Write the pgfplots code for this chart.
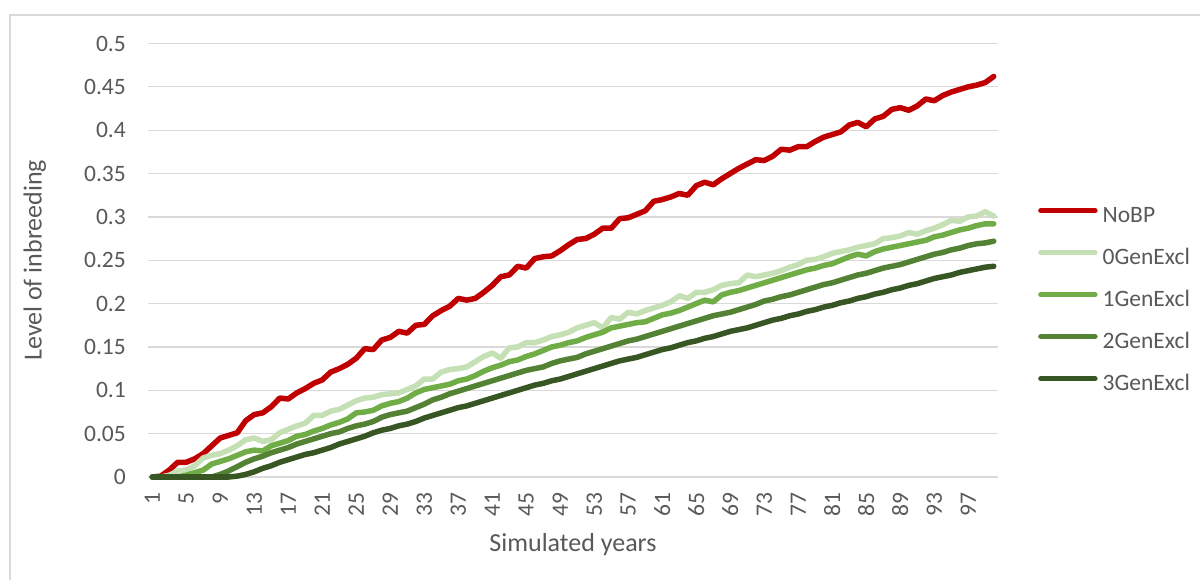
\documentclass[border=0pt]{standalone}
\usepackage{pgfplots}
\usepackage{pgfplotstable}
\pgfplotsset{compat=1.18}
\usepackage{fontspec}
\setmainfont{Carlito}
\definecolor{txt}{HTML}{595959}
\definecolor{grd}{HTML}{D9D9D9}
\definecolor{cNo}{HTML}{C00000}
\definecolor{cG0}{HTML}{C5E0B4}
\definecolor{cG1}{HTML}{70AD47}
\definecolor{cG2}{HTML}{548235}
\definecolor{cG3}{HTML}{375623}
\pgfplotstableread{
x nobp g0 g1 g2 g3
1 0 0 0 0 0
2 0.001 0 0 0 0
3 0.008 0.002 0 0 0
4 0.017 0.007 0 0 0
5 0.017 0.008 0.002 0 0
6 0.021 0.013 0.005 0 0
7 0.027 0.022 0.008 0 0
8 0.036 0.025 0.015 0 0
9 0.045 0.027 0.018 0.003 0
10 0.048 0.031 0.021 0.007 0
11 0.051 0.036 0.025 0.012 0.001
12 0.065 0.043 0.029 0.017 0.003
13 0.072 0.045 0.031 0.021 0.006
14 0.074 0.041 0.030 0.024 0.010
15 0.081 0.043 0.036 0.028 0.013
16 0.091 0.051 0.039 0.031 0.017
17 0.090 0.055 0.042 0.034 0.020
18 0.097 0.059 0.047 0.038 0.023
19 0.102 0.062 0.049 0.041 0.026
20 0.108 0.071 0.053 0.044 0.028
21 0.112 0.071 0.056 0.047 0.031
22 0.121 0.076 0.060 0.050 0.034
23 0.125 0.078 0.063 0.052 0.038
24 0.130 0.083 0.067 0.056 0.041
25 0.137 0.088 0.074 0.059 0.044
26 0.148 0.091 0.075 0.061 0.047
27 0.147 0.092 0.077 0.064 0.051
28 0.158 0.095 0.082 0.069 0.054
29 0.161 0.096 0.085 0.072 0.056
30 0.168 0.097 0.087 0.074 0.059
31 0.166 0.101 0.091 0.076 0.061
32 0.175 0.105 0.097 0.080 0.064
33 0.176 0.113 0.101 0.084 0.068
34 0.186 0.113 0.103 0.089 0.071
35 0.192 0.121 0.105 0.092 0.074
36 0.197 0.124 0.107 0.096 0.077
37 0.206 0.125 0.111 0.099 0.080
38 0.204 0.127 0.113 0.102 0.082
39 0.206 0.133 0.117 0.105 0.085
40 0.213 0.139 0.122 0.108 0.088
41 0.221 0.143 0.126 0.111 0.091
42 0.231 0.137 0.129 0.114 0.094
43 0.233 0.149 0.133 0.117 0.097
44 0.243 0.150 0.135 0.120 0.100
45 0.241 0.155 0.139 0.123 0.103
46 0.252 0.155 0.142 0.125 0.106
47 0.254 0.158 0.146 0.127 0.108
48 0.255 0.162 0.150 0.131 0.111
49 0.261 0.164 0.152 0.134 0.113
50 0.268 0.167 0.155 0.136 0.116
51 0.274 0.172 0.157 0.138 0.119
52 0.275 0.175 0.161 0.142 0.122
53 0.280 0.178 0.164 0.145 0.125
54 0.287 0.172 0.167 0.148 0.128
55 0.287 0.184 0.172 0.151 0.131
56 0.298 0.182 0.174 0.154 0.134
57 0.299 0.190 0.176 0.157 0.136
58 0.303 0.188 0.178 0.159 0.138
59 0.307 0.192 0.179 0.162 0.141
60 0.318 0.195 0.183 0.165 0.144
61 0.320 0.198 0.187 0.168 0.147
62 0.323 0.202 0.189 0.171 0.149
63 0.327 0.209 0.192 0.174 0.152
64 0.325 0.206 0.196 0.177 0.155
65 0.336 0.213 0.200 0.180 0.157
66 0.340 0.213 0.204 0.183 0.160
67 0.337 0.216 0.202 0.186 0.162
68 0.344 0.221 0.210 0.188 0.165
69 0.350 0.223 0.213 0.190 0.168
70 0.356 0.224 0.215 0.193 0.170
71 0.361 0.233 0.218 0.196 0.172
72 0.366 0.231 0.221 0.199 0.175
73 0.365 0.233 0.224 0.203 0.178
74 0.370 0.235 0.227 0.205 0.181
75 0.378 0.238 0.230 0.208 0.183
76 0.377 0.242 0.233 0.210 0.186
77 0.381 0.245 0.236 0.213 0.188
78 0.381 0.250 0.239 0.216 0.191
79 0.387 0.251 0.241 0.219 0.193
80 0.392 0.254 0.244 0.222 0.196
81 0.395 0.258 0.246 0.224 0.198
82 0.398 0.260 0.250 0.227 0.201
83 0.406 0.262 0.254 0.230 0.203
84 0.409 0.265 0.257 0.233 0.206
85 0.404 0.267 0.255 0.235 0.208
86 0.413 0.269 0.260 0.238 0.211
87 0.416 0.275 0.263 0.241 0.213
88 0.424 0.276 0.265 0.243 0.216
89 0.426 0.278 0.267 0.245 0.218
90 0.423 0.282 0.269 0.248 0.221
91 0.428 0.280 0.271 0.251 0.223
92 0.436 0.284 0.273 0.254 0.226
93 0.434 0.287 0.277 0.257 0.229
94 0.440 0.291 0.279 0.259 0.231
95 0.444 0.296 0.282 0.262 0.233
96 0.447 0.295 0.285 0.264 0.236
97 0.450 0.300 0.287 0.267 0.238
98 0.452 0.301 0.290 0.269 0.240
99 0.455 0.306 0.292 0.270 0.242
100 0.462 0.301 0.292 0.272 0.243
}\datatable
\begin{document}
\begin{tikzpicture}
\path[use as bounding box] (0,0) rectangle (1200bp,580bp);
\fill[white] (0,0) rectangle (1200bp,580bp);
\draw[grd, line width=1.2bp] (10bp,-20bp) rectangle (1220bp,565bp);
\begin{axis}[
  at={(148bp,103bp)}, anchor=south west,
  scale only axis, width=850bp, height=433.5bp,
  xmin=0.5, xmax=100.5, ymin=0, ymax=0.5,
  axis x line*=bottom, axis y line*=left,
  x axis line style={draw=grd, line width=1.2bp, -},
  y axis line style={draw=none},
  major tick length=0pt,
  ymajorgrids, grid style={draw=grd, line width=1.2bp},
  xtick={1,5,...,97},
  ytick={0,0.05,0.1,0.15,0.2,0.25,0.3,0.35,0.4,0.45,0.5},
  yticklabels={0,0.05,0.1,0.15,0.2,0.25,0.3,0.35,0.4,0.45,0.5},
  /pgf/number format/assume math mode=true,
  tick label style={font=\fontsize{23.5bp}{28bp}\selectfont, text=txt},
  yticklabel style={anchor=east, inner sep=0pt, xshift=-22bp},
  xticklabel style={yshift=-15bp, rotate=90, anchor=east, inner sep=0pt},
  xlabel={Simulated years}, ylabel={Level of inbreeding},
  label style={font=\fontsize{26bp}{31bp}\selectfont, text=txt},
  xlabel style={at={(axis description cs:0.5,-0.157)}, anchor=center},
  ylabel style={at={(axis description cs:-0.133,0.5)}, anchor=center},
  legend cell align=left,
  legend style={draw=none, fill=none, at={(axis description cs:1.047,0.624)}, anchor=north west,
    inner sep=0pt, row sep=22bp, font=\fontsize{23.5bp}{28bp}\selectfont, text=txt,
    nodes={inner sep=0pt, outer sep=0pt, text height=16bp, text depth=4bp}},
  legend image code/.code={\draw[#1, line width=5.5bp] (0bp,6bp) -- (54bp,6bp);},
  every axis plot/.append style={line width=5.5bp, line join=round, line cap=round, mark=none},
  clip=false,
]
\addplot[cNo] table[x=x, y=nobp] {\datatable};
\addlegendentry{\hspace{5bp}NoBP}
\addplot[cG0] table[x=x, y=g0] {\datatable};
\addlegendentry{\hspace{5bp}0GenExcl}
\addplot[cG1] table[x=x, y=g1] {\datatable};
\addlegendentry{\hspace{5bp}1GenExcl}
\addplot[cG2] table[x=x, y=g2] {\datatable};
\addlegendentry{\hspace{5bp}2GenExcl}
\addplot[cG3] table[x=x, y=g3] {\datatable};
\addlegendentry{\hspace{5bp}3GenExcl}
\end{axis}
\end{tikzpicture}
\end{document}
